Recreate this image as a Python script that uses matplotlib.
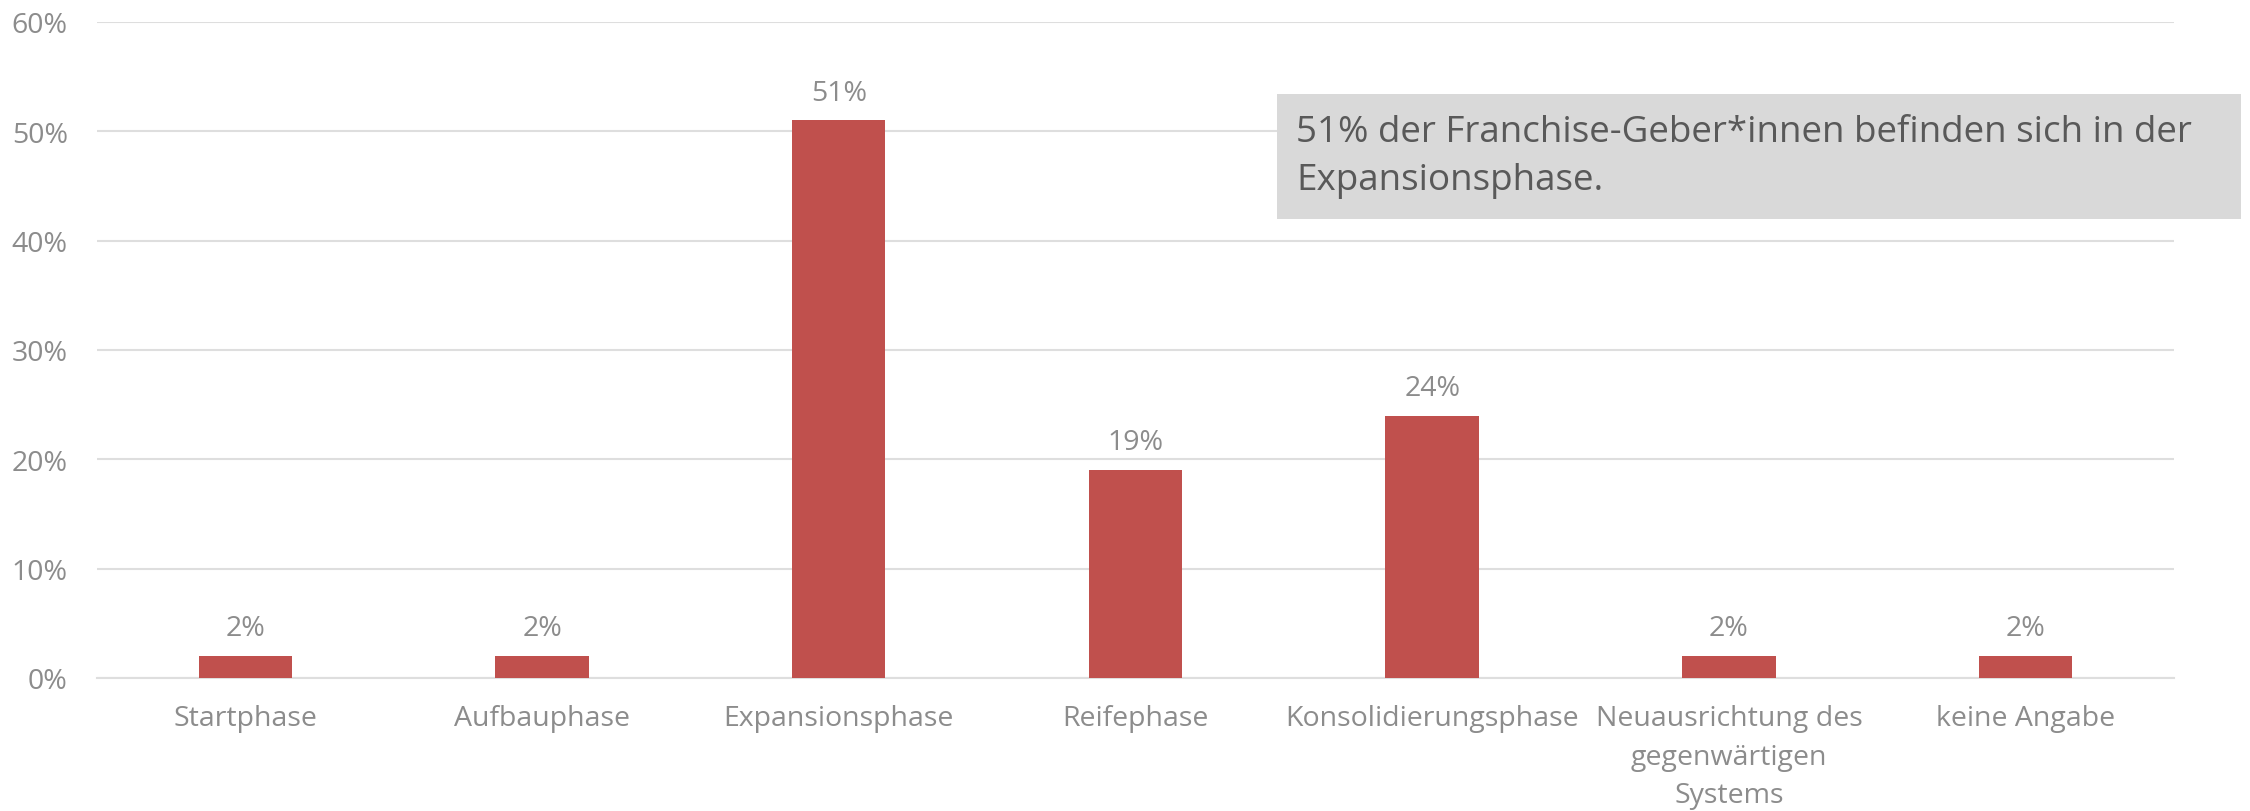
import matplotlib.pyplot as plt
from matplotlib.patches import Rectangle
from matplotlib.ticker import PercentFormatter

categories = ["Startphase", "Aufbauphase", "Expansionsphase", "Reifephase",
              "Konsolidierungsphase", "Neuausrichtung des\ngegenwärtigen\nSystems",
              "keine Angabe"]
values = [0.02, 0.02, 0.51, 0.19, 0.24, 0.02, 0.02]
y_ticks = [0, 0.1, 0.2, 0.3, 0.4, 0.5, 0.6]
note = "51% der Franchise-Geber*innen befinden sich in der\nExpansionsphase."

plt.rcParams['font.family'] = ['Open Sans', 'DejaVu Sans']

bar_color = "#c0504d"
grid_color = "#dedede"
label_color = "#8c8c8c"

fig = plt.figure(figsize=(22.5, 8.12), dpi=100)
ax = fig.add_axes([0.0431, 0.1638, 0.9231, 0.8079])

x = range(len(categories))
ax.bar(x, values, width=0.315, color=bar_color, zorder=3)

for xi, v in zip(x, values):
    ax.annotate(f"{v * 100:.0f}%", (xi, v), xytext=(0, 20), textcoords="offset points",
                ha="center", va="center", fontsize=20.5, color=label_color)

ax.set_xlim(-0.5, len(categories) - 0.5)
ax.set_ylim(0, 0.6)
ax.set_yticks(y_ticks)
ax.yaxis.set_major_formatter(PercentFormatter(1.0, decimals=0))
ax.set_xticks(list(x))
ax.set_xticklabels(categories, linespacing=1.5)

ax.grid(axis="y", color=grid_color, linewidth=1.5, zorder=0)
for s in ["top", "right", "left"]:
    ax.spines[s].set_visible(False)
ax.spines["bottom"].set_color(grid_color)
ax.spines["bottom"].set_linewidth(1.5)
ax.tick_params(axis="both", length=0, labelsize=20.5, colors=label_color)
ax.tick_params(axis="y", pad=21)
ax.tick_params(axis="x", pad=19)

# annotation box
fig.patches.append(Rectangle((0.5676, 0.729), 0.4284, 0.154, transform=fig.transFigure,
                             facecolor="#d9d9d9", edgecolor="none", zorder=5))
fig.text(0.576, 0.8067, note, ha="left", va="center", fontsize=26.5,
         color="#595959", linespacing=1.45, zorder=6)

fig.savefig("out.png", dpi=100)
